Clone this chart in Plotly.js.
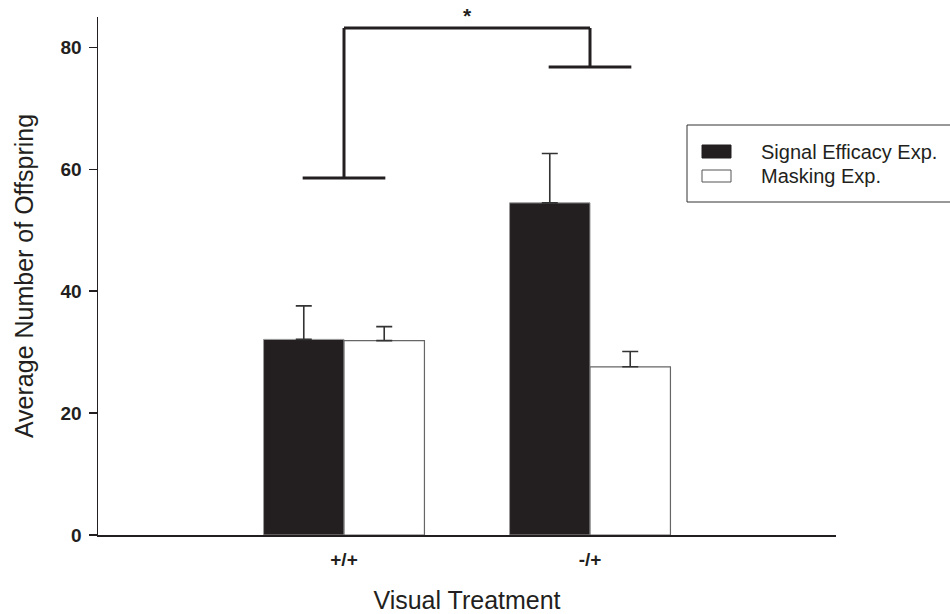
<!DOCTYPE html>
<html>
<head>
<meta charset="utf-8">
<script src="https://cdn.plot.ly/plotly-3.0.1.min.js"></script>
<style>html,body{margin:0;padding:0;background:#fff;}#chart{width:950px;height:614px;}</style>
</head>
<body>
<div id="chart"></div>
<script>
// ---- data ----
var categories = ["+/+", "-/+"];
var seriesNames = ["Signal Efficacy Exp.", "Masking Exp."];
var signalEfficacy = [32.1, 54.5];
var signalEfficacyErr = [5.5, 8.1];
var masking = [31.9, 27.6];
var maskingErr = [2.3, 2.5];
var yTickValues = [0, 20, 40, 60, 80];
// significance bracket levels (y values) : left foot, right foot, top
var bracketLevels = [58.6, 76.8, 83.2];
var bracketLabel = "*";

var FONT = '"Liberation Sans", Arial, Helvetica, sans-serif';
var INK = '#231f20';

var traces = [
  {
    type: 'bar', name: seriesNames[0], x: categories, y: signalEfficacy,
    marker: {color: INK, line: {color: '#9a9a9a', width: 1}},
    error_y: {type: 'data', array: signalEfficacyErr, arrayminus: [0, 0], symmetric: false,
              color: '#333', thickness: 1.6, width: 8},
    showlegend: false
  },
  {
    type: 'bar', name: seriesNames[1], x: categories, y: masking,
    marker: {color: '#ffffff', line: {color: '#666', width: 1.2}},
    error_y: {type: 'data', array: maskingErr, arrayminus: [0, 0], symmetric: false,
              color: '#333', thickness: 1.6, width: 8},
    showlegend: false
  }
];

// paper coordinate helpers for legend (plot area: 98..836 x, 17..535 y)
function px(x) { return (x - 98) / 738; }
function py(y) { return (535 - y) / 518; }

var bw = 0.168;
var shapes = [
  // bracket
  {type: 'line', xref: 'x', yref: 'y', x0: -bw, x1: bw, y0: bracketLevels[0], y1: bracketLevels[0], line: {color: INK, width: 3}},
  {type: 'line', xref: 'x', yref: 'y', x0: 0, x1: 0, y0: bracketLevels[0], y1: bracketLevels[2], line: {color: INK, width: 3}},
  {type: 'line', xref: 'x', yref: 'y', x0: 0, x1: 1, y0: bracketLevels[2], y1: bracketLevels[2], line: {color: INK, width: 3}},
  {type: 'line', xref: 'x', yref: 'y', x0: 1, x1: 1, y0: bracketLevels[2], y1: bracketLevels[1], line: {color: INK, width: 3}},
  {type: 'line', xref: 'x', yref: 'y', x0: 1 - bw, x1: 1 + bw, y0: bracketLevels[1], y1: bracketLevels[1], line: {color: INK, width: 3}},
  // legend box
  {type: 'rect', xref: 'paper', yref: 'paper', x0: px(687), x1: px(960), y0: py(202), y1: py(125),
   line: {color: '#333', width: 1}, fillcolor: 'rgba(0,0,0,0)'},
  {type: 'rect', xref: 'paper', yref: 'paper', x0: px(702), x1: px(731), y0: py(158), y1: py(145),
   line: {color: INK, width: 1}, fillcolor: INK},
  {type: 'rect', xref: 'paper', yref: 'paper', x0: px(702), x1: px(731), y0: py(182), y1: py(170),
   line: {color: '#555', width: 1}, fillcolor: '#ffffff'}
];

var annotations = [
  {xref: 'x', yref: 'y', x: 0.5, y: bracketLevels[2], text: bracketLabel, showarrow: false,
   yanchor: 'bottom', yshift: -1, font: {family: FONT, size: 21, color: INK, weight: 'bold'}},
  {xref: 'paper', yref: 'paper', x: px(759), y: py(152), text: seriesNames[0], showarrow: false,
   xanchor: 'left', yanchor: 'middle', font: {family: FONT, size: 20, color: INK}},
  {xref: 'paper', yref: 'paper', x: px(759), y: py(176), text: seriesNames[1], showarrow: false,
   xanchor: 'left', yanchor: 'middle', font: {family: FONT, size: 20, color: INK}}
];

var layout = {
  width: 950, height: 614,
  margin: {l: 98, r: 114, t: 17, b: 79, pad: 0},
  paper_bgcolor: '#fff', plot_bgcolor: '#fff',
  barmode: 'group', bargap: 0.346, bargroupgap: 0,
  font: {family: FONT, color: INK},
  xaxis: {
    type: 'category', range: [-1, 2], showgrid: false, zeroline: false,
    showline: true, linecolor: INK, linewidth: 1.5,
    ticks: '', ticklabelstandoff: 7,
    tickfont: {family: FONT, size: 19, color: INK, weight: 'bold'},
    title: {text: 'Visual Treatment', font: {family: FONT, size: 25, color: INK}, standoff: 29}
  },
  yaxis: {
    range: [0, 85], tickvals: yTickValues, showgrid: false, zeroline: false,
    showline: true, linecolor: INK, linewidth: 1.5,
    ticks: 'outside', ticklen: 8, tickwidth: 1.5, tickcolor: INK,
    ticklabelstandoff: 3,
    tickfont: {family: FONT, size: 19, color: INK, weight: 'bold'},
    title: {text: 'Average Number of Offspring', font: {family: FONT, size: 25, color: INK}, standoff: 20}
  },
  shapes: shapes,
  annotations: annotations,
  showlegend: false
};

Plotly.newPlot('chart', traces, layout, {displayModeBar: false, staticPlot: true});
</script>
</body>
</html>
